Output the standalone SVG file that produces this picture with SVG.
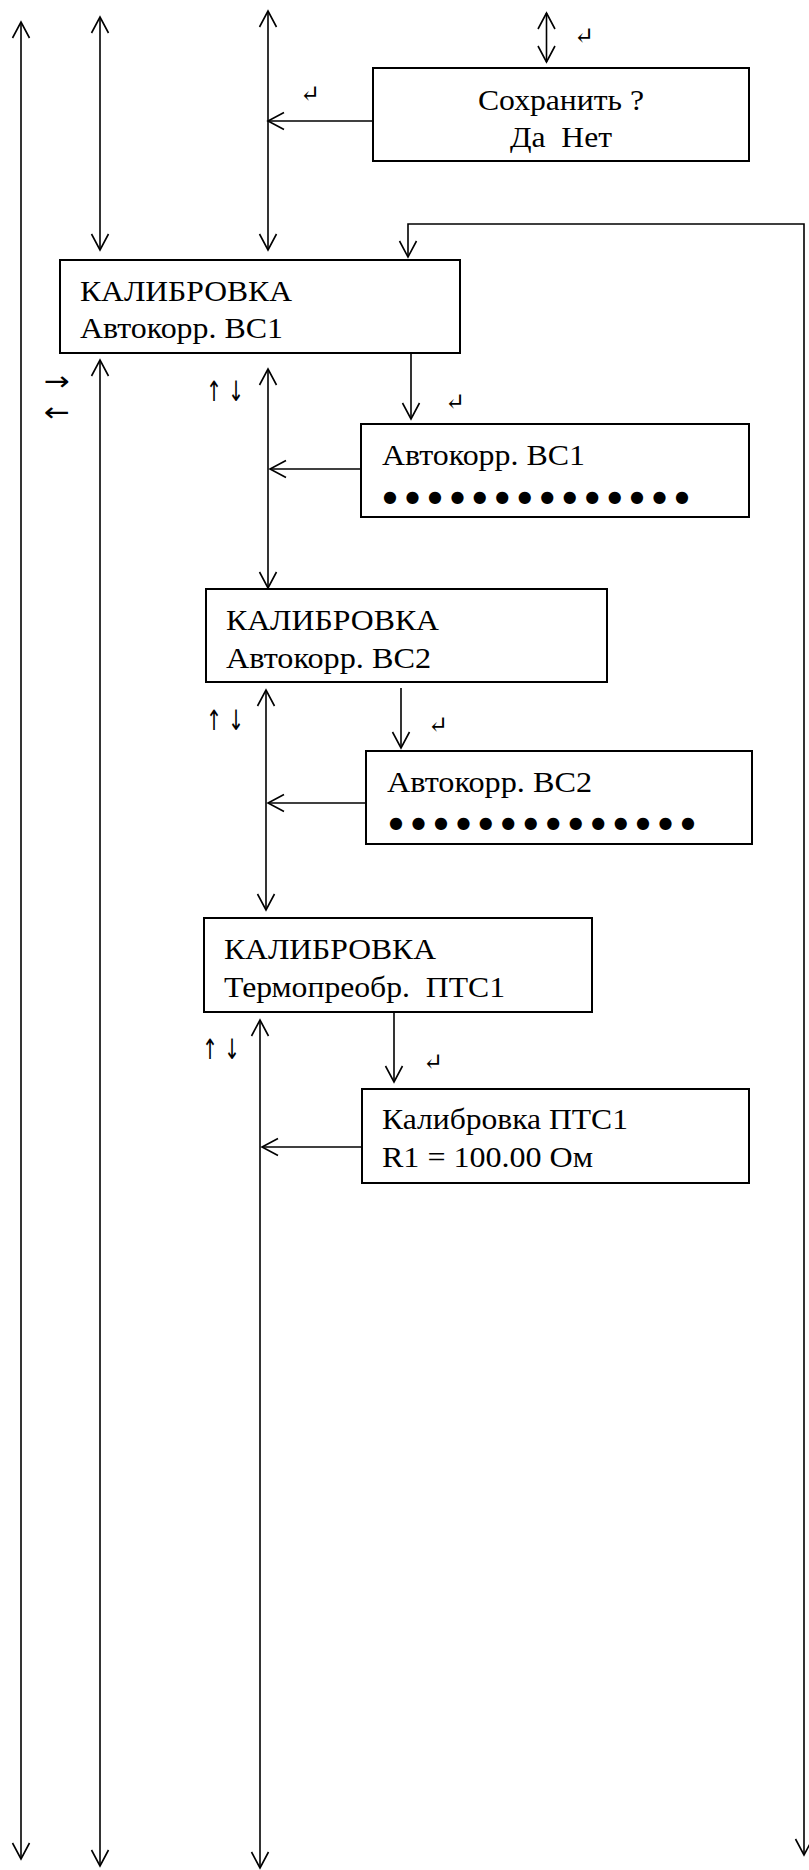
<svg xmlns="http://www.w3.org/2000/svg" width="809" height="1870" viewBox="0 0 809 1870">
<defs>
<style>
.box{fill:#fff;stroke:#000;stroke-width:2}
.ln{fill:none;stroke:#000;stroke-width:1.6}
.a2{marker-start:url(#ah);marker-end:url(#ah)}
.a1{marker-end:url(#ah)}
</style>
<marker id="ah" markerUnits="userSpaceOnUse" orient="auto-start-reverse" overflow="visible" markerWidth="20" markerHeight="20" refX="0" refY="0">
<path d="M-16,-8.5 L0,0 L-16,8.5" fill="none" stroke="#000" stroke-width="1.6"/>
</marker>
</defs>
<rect width="809" height="1870" fill="#fff"/>
<g id="connectors">
<path class="ln a2" d="M21,22 L21,1859"/>
<path class="ln a2" d="M100,17 L100,250"/>
<path class="ln a2" d="M100,360 L100,1866"/>
<path class="ln a2" d="M268,11 L268,250"/>
<path class="ln a2" d="M268,369 L268,588"/>
<path class="ln a2" d="M266,690 L266,910"/>
<path class="ln a2" d="M260,1020 L260,1868"/>
<path class="ln a2" d="M546.5,13 L546.5,62"/>
<path class="ln a2" d="M804,1855 L804,224 L408,224 L408,257"/>
<path class="ln a1" d="M372,121 L268,121"/>
<path class="ln a1" d="M361,469 L270,469"/>
<path class="ln a1" d="M366,803 L268,803"/>
<path class="ln a1" d="M362,1147 L262,1147"/>
<path class="ln a1" d="M411,353 L411,419"/>
<path class="ln a1" d="M401,688 L401,748"/>
<path class="ln a1" d="M394,1013 L394,1082"/>
</g>
<g id="labels" font-family="DejaVu Sans, sans-serif" fill="#000">
<text x="574" y="44" font-size="24" font-family="DejaVu Serif, DejaVu Sans, serif">↵</text>
<text x="300" y="102" font-size="24" font-family="DejaVu Serif, DejaVu Sans, serif">↵</text>
<text x="445" y="410" font-size="24" font-family="DejaVu Serif, DejaVu Sans, serif">↵</text>
<text x="428" y="733" font-size="24" font-family="DejaVu Serif, DejaVu Sans, serif">↵</text>
<text x="423" y="1070" font-size="24" font-family="DejaVu Serif, DejaVu Sans, serif">↵</text>
<text x="44" y="390" font-size="26" textLength="26" lengthAdjust="spacingAndGlyphs">→</text>
<text x="44" y="421" font-size="26" textLength="26" lengthAdjust="spacingAndGlyphs">←</text>
<text x="206" y="401" font-size="28" xml:space="preserve" textLength="38" lengthAdjust="spacingAndGlyphs">↑ ↓</text>
<text x="206" y="730" font-size="28" xml:space="preserve" textLength="38" lengthAdjust="spacingAndGlyphs">↑ ↓</text>
<text x="202" y="1059" font-size="28" xml:space="preserve" textLength="38" lengthAdjust="spacingAndGlyphs">↑ ↓</text>
</g>
<g font-family="Liberation Serif, Tinos, Times New Roman, DejaVu Serif, serif" font-size="30" fill="#000">
<g id="node-save">
<rect class="box" x="373" y="68" width="376" height="93"/>
<text x="561" y="110" text-anchor="middle" textLength="166" lengthAdjust="spacingAndGlyphs">Сохранить ?</text>
<text x="561" y="147" text-anchor="middle" xml:space="preserve" textLength="102" lengthAdjust="spacingAndGlyphs">Да  Нет</text>
</g>
<g id="node-cal-bc1">
<rect class="box" x="60" y="260" width="400" height="93"/>
<text x="80" y="301" textLength="212" lengthAdjust="spacingAndGlyphs">КАЛИБРОВКА</text>
<text x="80" y="338" textLength="203" lengthAdjust="spacingAndGlyphs">Автокорр. ВС1</text>
</g>
<g id="node-auto-bc1">
<rect class="box" x="361" y="424" width="388" height="93"/>
<text x="382" y="465" textLength="203" lengthAdjust="spacingAndGlyphs">Автокорр. ВС1</text>
<text x="383" y="502" font-family="DejaVu Sans, sans-serif" font-size="16" textLength="306" lengthAdjust="spacing">●●●●●●●●●●●●●●</text>
</g>
<g id="node-cal-bc2">
<rect class="box" x="206" y="589" width="401" height="93"/>
<text x="226" y="630" textLength="213" lengthAdjust="spacingAndGlyphs">КАЛИБРОВКА</text>
<text x="226" y="668" textLength="205" lengthAdjust="spacingAndGlyphs">Автокорр. ВС2</text>
</g>
<g id="node-auto-bc2">
<rect class="box" x="366" y="751" width="386" height="93"/>
<text x="387" y="792" textLength="205" lengthAdjust="spacingAndGlyphs">Автокорр. ВС2</text>
<text x="389" y="828" font-family="DejaVu Sans, sans-serif" font-size="16" textLength="306" lengthAdjust="spacing">●●●●●●●●●●●●●●</text>
</g>
<g id="node-cal-ptc1">
<rect class="box" x="204" y="918" width="388" height="94"/>
<text x="224" y="959" textLength="212" lengthAdjust="spacingAndGlyphs">КАЛИБРОВКА</text>
<text x="224" y="997" xml:space="preserve" textLength="281" lengthAdjust="spacingAndGlyphs">Термопреобр.  ПТС1</text>
</g>
<g id="node-ptc1">
<rect class="box" x="362" y="1089" width="387" height="94"/>
<text x="382" y="1129" textLength="246" lengthAdjust="spacingAndGlyphs">Калибровка ПТС1</text>
<text x="382" y="1167" textLength="211" lengthAdjust="spacingAndGlyphs">R1 = 100.00 Ом</text>
</g>
</g>
</svg>
